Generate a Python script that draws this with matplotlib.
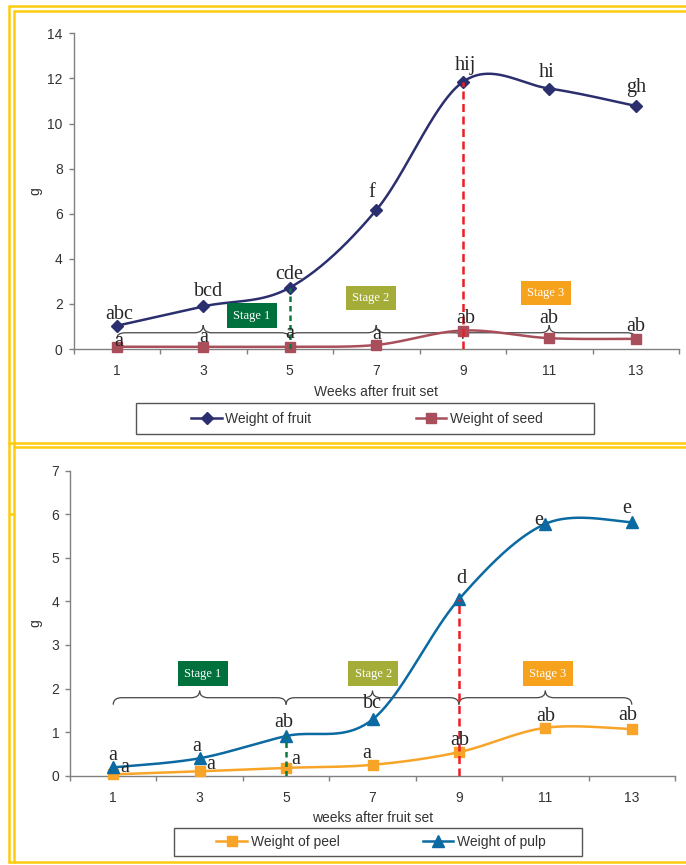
import numpy as np
import matplotlib
matplotlib.use('Agg')
import matplotlib.pyplot as plt
from matplotlib.path import Path
from matplotlib.patches import PathPatch, Rectangle
from matplotlib.lines import Line2D

weeks = ['1', '3', '5', '7', '9', '11', '13']
fruit = [1.03, 1.89, 2.72, 6.16, 11.84, 11.55, 10.78]
seed = [0.10, 0.10, 0.10, 0.18, 0.82, 0.48, 0.45]
peel = [0.03, 0.10, 0.18, 0.25, 0.54, 1.10, 1.07]
pulp = [0.19, 0.40, 0.91, 1.29, 4.05, 5.78, 5.82]

fruit_letters = ['abc', 'bcd', 'cde', 'f', 'hij', 'hi', 'gh']
seed_letters = ['a', 'a', 'a', 'a', 'ab', 'ab', 'ab']
peel_letters = ['a', 'a', 'a', 'a', 'ab', 'ab', 'ab']
pulp_letters = ['a', 'a', 'ab', 'bc', 'd', 'e', 'e']

stages = ['Stage 1', 'Stage 2', 'Stage 3']
stage_colors = ['#00703c', '#a3ad38', '#f7a21c']

# label offsets in pixels (dx, dy) from each marker
fruit_off = [(2, 7), (5, 10), (0, 9), (-5, 13), (3, 12), (-3, 12), (0, 14)]
seed_off = [(2, 1), (0, 5), (0, 9), (0, 6), (3, 8), (-1, 15), (0, 8)]
pulp_off = [(-1, 7), (-3, 7), (-2, 9), (0, 11), (2, 16), (-7, -1), (-5, 9)]
peel_off = [(11, 2), (11, 2), (10, 4), (-6, 7), (1, 7), (0, 7), (-4, 9)]

W, H = 686, 865
fig = plt.figure(figsize=(W / 100, H / 100), dpi=100)

SANS = 'Liberation Sans'
SERIF = 'Liberation Serif'
TXT = '#333333'


def smooth(vals, n=40):
    # bezier smoothing through every point, like spreadsheet "smoothed line"
    x = np.arange(len(vals), dtype=float)
    y = np.asarray(vals, dtype=float)
    px = np.concatenate([[x[0]], x, [x[-1]]])
    py = np.concatenate([[y[0]], y, [y[-1]]])
    t = np.linspace(0, 1, n)[:, None]
    pts = []
    for i in range(len(x) - 1):
        p0 = np.array([px[i], py[i]])
        p1 = np.array([px[i + 1], py[i + 1]])
        p2 = np.array([px[i + 2], py[i + 2]])
        p3 = np.array([px[i + 3], py[i + 3]])
        c1 = p1 + (p2 - p0) / 6
        c2 = p2 - (p3 - p1) / 6
        seg = ((1 - t) ** 3) * p1 + 3 * ((1 - t) ** 2) * t * c1 + 3 * (1 - t) * t ** 2 * c2 + t ** 3 * p2
        pts.append(seg if i == 0 else seg[1:])
    pts = np.vstack(pts)
    return pts[:, 0], pts[:, 1]


def brace(ax, x0, x1, y, up, down, r=0.1):
    xm = (x0 + x1) / 2
    verts = [(x0, y - down), (x0, y), (x0 + r, y),
             (xm - r, y), (xm, y), (xm, y + up),
             (xm, y), (xm + r, y),
             (x1 - r, y), (x1, y), (x1, y - down)]
    codes = [Path.MOVETO, Path.CURVE3, Path.CURVE3,
             Path.LINETO, Path.CURVE3, Path.CURVE3,
             Path.CURVE3, Path.CURVE3,
             Path.LINETO, Path.CURVE3, Path.CURVE3]
    ax.add_patch(PathPatch(Path(verts, codes), fill=False, edgecolor='#444444',
                           lw=0.9, zorder=2, clip_on=False))


def series(ax, vals, color, marker, ms, letters, offsets, label):
    xs, ys = smooth(vals)
    ax.plot(xs, ys, color=color, lw=1.8, zorder=3, clip_on=False)
    ax.plot(range(len(vals)), vals, ls='none', marker=marker, ms=ms, color=color,
            zorder=4, clip_on=False)
    for i, (v, s) in enumerate(zip(vals, letters)):
        ax.annotate(s, (i, v), xytext=offsets[i], textcoords='offset pixels',
                    ha='center', va='baseline', fontsize=14.5, family=SERIF,
                    color='#262626', zorder=6)
    return Line2D([], [], color=color, lw=1.8, marker=marker, ms=ms, label=label)


def setup(ax, ymax, ystep, xlabel, ylab_x, xlab_y):
    for s in ['top', 'right']:
        ax.spines[s].set_visible(False)
    for s in ['left', 'bottom']:
        ax.spines[s].set_color('#808080')
        ax.spines[s].set_linewidth(1)
    ax.set_xlim(-0.5, 6.5)
    ax.set_ylim(0, ymax)
    ax.set_yticks(np.arange(0, ymax + 0.1, ystep))
    ax.set_xticks(range(len(weeks)))
    ax.set_xticklabels(weeks)
    ax.set_xticks(np.arange(-0.5, 7, 1), minor=True)
    ax.tick_params(axis='x', which='major', length=0, pad=11)
    ax.tick_params(axis='x', which='minor', length=3.6, width=1, color='#808080', direction='out')
    ax.tick_params(axis='y', length=3.6, width=1, color='#808080', direction='out', pad=4.2)
    for lab in ax.get_xticklabels() + ax.get_yticklabels():
        lab.set_family(SANS)
        lab.set_fontsize(10)
        lab.set_color(TXT)
    ax.set_xlabel(xlabel, family=SANS, fontsize=10, color=TXT)
    ax.set_ylabel('g', family=SANS, fontsize=10, color=TXT)
    ax.xaxis.set_label_coords(0.5, xlab_y)
    ax.yaxis.set_label_coords(ylab_x, 0.5)
    ax.patch.set_alpha(0)


def stage_boxes(ax, positions):
    for (x, y), name, c in zip(positions, stages, stage_colors):
        ax.text(x, y, name, ha='center', va='center', family=SERIF, fontsize=9,
                color='white', zorder=5,
                bbox=dict(boxstyle='square,pad=0.5', facecolor=c, edgecolor='none'))


# background layer in pixel coordinates: yellow frames and legend boxes
bg = fig.add_axes([0, 0, 1, 1], zorder=-10)
bg.set_xlim(0, W)
bg.set_ylim(H, 0)
bg.axis('off')
yellow = '#ffcc0d'
for y, x0 in [(6, 8), (11, 13), (443, 8), (447, 13), (862, 8)]:
    bg.plot([x0, W], [y, y], color=yellow, lw=1.8, solid_capstyle='butt')
for x, y0 in [(8.5, 6), (13.5, 11)]:
    bg.plot([x, x], [y0, 863], color=yellow, lw=1.8, solid_capstyle='butt')
bg.plot([8.5, 13.5], [514, 514], color=yellow, lw=1.8, solid_capstyle='butt')
bg.add_patch(Rectangle((135.6, 403), 458.4, 31, fill=False, edgecolor='#555555', lw=1))
bg.add_patch(Rectangle((173.7, 827.7), 408.3, 28.3, fill=False, edgecolor='#555555', lw=1))

# upper panel: whole fruit and seed
ax1 = fig.add_axes([73.5 / W, 1 - 349 / H, 605.5 / W, 315.7 / H])
setup(ax1, 14, 2, 'Weeks after fruit set', -0.052, -0.114)
brace(ax1, 0, 2, 0.72, 0.34, 0.27)
brace(ax1, 2, 4, 0.72, 0.34, 0.27)
brace(ax1, 4, 6, 0.72, 0.34, 0.27)
h_fruit = series(ax1, fruit, '#2b2f6e', 'D', 6.2, fruit_letters, fruit_off, 'Weight of fruit')
h_seed = series(ax1, seed, '#a94f5b', 's', 7.8, seed_letters, seed_off, 'Weight of seed')
ax1.plot([2, 2], [0, fruit[2]], color='#0b7a3e', lw=1.8, ls=(0, (2.2, 1.6)), zorder=5)
ax1.plot([4, 4], [0, fruit[4]], color='#ee1c25', lw=1.8, ls=(0, (3.2, 1.8)), zorder=5)
stage_boxes(ax1, [(1.56, 1.48), (2.94, 2.26), (4.96, 2.48)])
fig.legend(handles=[h_fruit, h_seed], loc='center', bbox_to_anchor=(367 / W, 1 - 418.5 / H),
           ncol=2, frameon=False, numpoints=1, handlelength=2.2, handletextpad=0.25,
           columnspacing=7.5, borderpad=0, prop={'family': SANS, 'size': 10},
           labelcolor=TXT)

# lower panel: peel and pulp
ax2 = fig.add_axes([70 / W, 1 - 775.7 / H, 605 / W, 305 / H])
setup(ax2, 7, 1, 'weeks after fruit set', -0.046, -0.116)
brace(ax2, 0, 2, 1.79, 0.16, 0.16)
brace(ax2, 2, 4, 1.79, 0.16, 0.16)
brace(ax2, 4, 6, 1.79, 0.16, 0.16)
h_peel = series(ax2, peel, '#f7a428', 's', 7.8, peel_letters, peel_off, 'Weight of peel')
h_pulp = series(ax2, pulp, '#0a6aa1', '^', 8.5, pulp_letters, pulp_off, 'Weight of pulp')
ax2.plot([2, 2], [0, pulp[2]], color='#0b7a3e', lw=1.8, ls=(0, (2.2, 1.6)), zorder=5)
ax2.plot([4, 4], [0, pulp[4]], color='#ee1c25', lw=1.8, ls=(0, (3.2, 1.8)), zorder=5)
stage_boxes(ax2, [(1.04, 2.34), (3.01, 2.34), (5.03, 2.34)])
fig.legend(handles=[h_peel, h_pulp], loc='center', bbox_to_anchor=(381 / W, 1 - 842 / H),
           ncol=2, frameon=False, numpoints=1, handlelength=2.2, handletextpad=0.25,
           columnspacing=6.0, borderpad=0, prop={'family': SANS, 'size': 10},
           labelcolor=TXT)

fig.savefig('out.png', dpi=100, facecolor='white')
